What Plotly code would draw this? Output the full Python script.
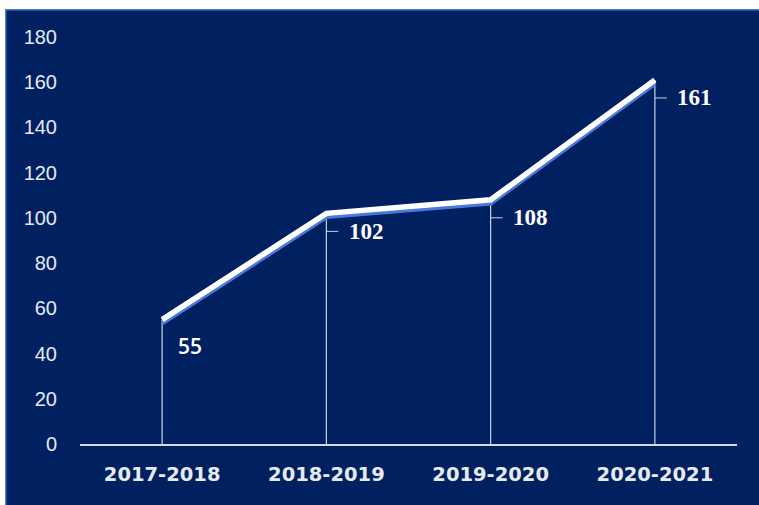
import plotly.graph_objects as go

categories = ["2017-2018", "2018-2019", "2019-2020", "2020-2021"]
values = [55, 102, 108, 161]
y_ticks = [0, 20, 40, 60, 80, 100, 120, 140, 160, 180]

NAVY = "#002060"
W, H = 759, 505
ML, MR, MT, MB = 80, 22, 37, 61
PW, PH = W - ML - MR, H - MT - MB

fig = go.Figure()

# drop lines from each point to the axis
fig.add_trace(go.Scatter(
    x=categories, y=values, mode="markers",
    marker=dict(size=1, color="rgba(0,0,0,0)"),
    error_y=dict(type="data", symmetric=False, array=[0] * len(values),
                 arrayminus=values, width=0, thickness=1.2, color="#c9d2e6"),
    hoverinfo="skip", showlegend=False,
))

# blue shadow of the line (overlay axis shifted a few pixels down)
shift = 3.0 * 180 / PH
fig.add_trace(go.Scatter(
    x=categories, y=values, mode="lines", yaxis="y2",
    line=dict(color="#4a78dc", width=5.5), showlegend=False, hoverinfo="skip",
))
# main white line (overlay axis with the same range, drawn on top)
fig.add_trace(go.Scatter(
    x=categories, y=values, mode="lines", yaxis="y3",
    line=dict(color="#ffffff", width=5.5), showlegend=False,
))

# data labels
label_font_serif = dict(family="Liberation Serif", size=23, color="#ffffff", weight="bold")
for i, (c, v) in enumerate(zip(categories, values)):
    if i == 0:
        fig.add_annotation(x=c, y=v, text=str(v), showarrow=False,
                           xanchor="left", yanchor="middle", xshift=14, yshift=-26,
                           font=dict(family="Open Sans", size=21, color="#ffffff", weight=600))
    else:
        fig.add_annotation(x=c, y=v, text=str(v), showarrow=True, arrowhead=0,
                           arrowwidth=1, arrowcolor="#c9d2e6", ax=40, ay=0,
                           startstandoff=9,
                           xanchor="center", yanchor="middle", yshift=-18,
                           font=label_font_serif)

# white page strips on the top and left, blue border of the chart box
fig.add_shape(type="rect", xref="paper", yref="paper",
              x0=(0 - ML) / PW, x1=(5 - ML) / PW, y0=-1, y1=2,
              fillcolor="#ffffff", line_width=0, layer="below")
fig.add_shape(type="rect", xref="paper", yref="paper",
              x0=-1, x1=2, y0=(H - MB - 9) / PH, y1=(H - MB) / PH,
              fillcolor="#ffffff", line_width=0, layer="below")
fig.add_shape(type="line", xref="paper", yref="paper",
              x0=(5.75 - ML) / PW, x1=(5.75 - ML) / PW,
              y0=(H - MB - 9.75) / PH, y1=(H - MB - H) / PH,
              line=dict(color="#4a7cc8", width=1.5))
fig.add_shape(type="line", xref="paper", yref="paper",
              x0=(5 - ML) / PW, x1=(W - ML) / PW,
              y0=(H - MB - 9.75) / PH, y1=(H - MB - 9.75) / PH,
              line=dict(color="#4a7cc8", width=1.5))

fig.update_layout(
    width=W, height=H,
    margin=dict(l=ML, r=MR, t=MT, b=MB),
    paper_bgcolor=NAVY, plot_bgcolor=NAVY,
    showlegend=False,
    xaxis=dict(
        type="category", range=[-0.5, 3.5],
        showgrid=False, zeroline=False,
        showline=True, linecolor="#d4d8e2", linewidth=2,
        ticks="", ticklabelstandoff=12,
        tickfont=dict(family="DejaVu Sans", size=19.5, color="#e6eaf2", weight="bold"),
    ),
    yaxis=dict(
        range=[0, 180], tickvals=y_ticks,
        showgrid=False, zeroline=False, showline=False,
        ticks="", ticklabelstandoff=22,
        tickfont=dict(family="Liberation Sans", size=20, color="#e6eaf2"),
    ),
    yaxis2=dict(range=[shift, 180 + shift], overlaying="y", visible=False),
    yaxis3=dict(range=[0, 180], overlaying="y", visible=False),
)

fig.write_html(
    "out.html",
    config={"displayModeBar": False},
    post_script="document.body.style.margin='0';document.body.style.overflow='hidden';",
)
